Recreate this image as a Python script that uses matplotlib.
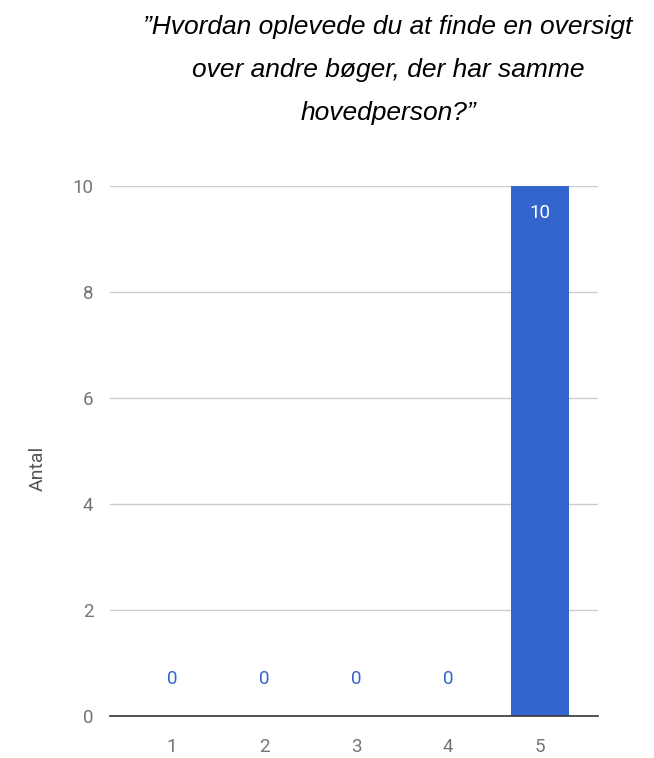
import matplotlib
matplotlib.use("Agg")
import matplotlib.pyplot as plt

categories = ["1", "2", "3", "4", "5"]
values = [0, 0, 0, 0, 10]
yticks = [0, 2, 4, 6, 8, 10]
title_lines = ["\u201dHvordan oplevede du at finde en oversigt",
               "over andre b\u00f8ger, der har samme",
               "hovedperson?\u201d"]
ylabel = "Antal"

bar_color = "#3366CC"
tick_color = "#757575"
fs = 13.5

fig = plt.figure(figsize=(6.54, 7.58), dpi=100)
ax = fig.add_axes([110/654, 1-716/758, (598-110)/654, (716-186)/758])

x = list(range(1, len(categories)+1))
ax.bar(x, values, width=0.63, color=bar_color, zorder=3)
ax.set_xlim(1-62/92, 5+58/92)
ax.set_ylim(0, 10)
ax.set_yticks(yticks)
ax.set_xticks(x)
ax.set_xticklabels(categories)
for s in ["top", "right", "left"]:
    ax.spines[s].set_visible(False)
ax.spines["bottom"].set_color("#333333")
ax.spines["bottom"].set_linewidth(1.2)
ax.spines["bottom"].set_zorder(4)
ax.yaxis.grid(True, color="#cccccc", linewidth=1)
ax.set_axisbelow(True)
ax.tick_params(length=0, colors=tick_color, labelsize=fs)
ax.tick_params(axis="y", pad=12)
ax.tick_params(axis="x", pad=16)
for lab in ax.get_xticklabels() + ax.get_yticklabels():
    lab.set_fontfamily("Roboto")

for xi, v in zip(x, values):
    if v > 0:
        ax.text(xi, v - 0.5, str(v), ha="center", va="center", color="white",
                fontsize=fs, family="Roboto", zorder=5)
    else:
        ax.text(xi, v + 0.7, str(v), ha="center", va="center", color=bar_color,
                fontsize=fs, family="Roboto", zorder=5)

fig.text(38/654, 1-468/758, ylabel, rotation=90, ha="center", va="center",
         color="#555555", fontsize=14, family="Roboto")

for i, line in enumerate(title_lines):
    fig.text(388/654, 1-(27+43*i)/758, line, ha="center", va="center",
             fontsize=19, style="italic", family="Liberation Sans", color="black")

fig.savefig("out.png", dpi=100)
